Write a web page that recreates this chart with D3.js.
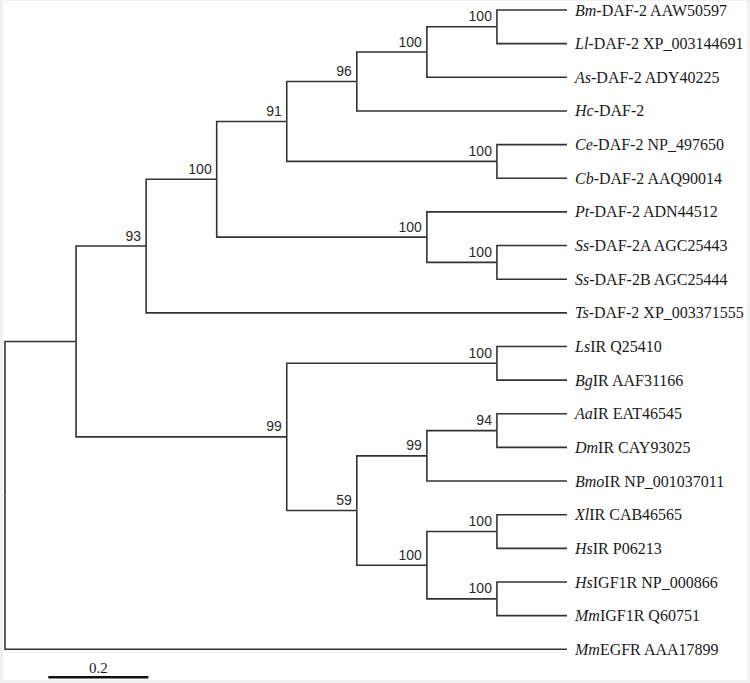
<html>
<meta charset="utf-8">

<head>
    <script src="https://d3js.org/d3.v7.min.js"></script>
    <style>
        body {
            margin: 0;
            background: #f1f1f1;
        }
    </style>
</head>

<body>
    <svg id="tree" width="750" height="683"></svg>

    <script>
        // node table: id, parent, distance from root, bootstrap support
        const nodeIds = ['root', 'n1', 'n93', 'n100a', 'n91', 'n96', 'n100b', 'nBm',
            'Bm', 'Ll', 'As', 'Hc', 'nCe', 'Ce', 'Cb', 'nPt', 'Pt', 'nSs', 'SsA', 'SsB', 'Ts',
            'n99a', 'nLs', 'Ls', 'Bg', 'n59', 'n99b', 'nAa', 'Aa', 'Dm', 'Bmo',
            'n100c', 'nXl', 'Xl', 'HsIR', 'nHsI', 'HsIGF', 'MmIGF', 'MmEGFR'];
        const parentIds = ['', 'root', 'n1', 'n93', 'n100a', 'n91', 'n96', 'n100b',
            'nBm', 'nBm', 'n100b', 'n96', 'n91', 'nCe', 'nCe', 'n100a', 'nPt', 'nPt', 'nSs', 'nSs', 'n93',
            'n1', 'n99a', 'nLs', 'nLs', 'n99a', 'n59', 'n99b', 'nAa', 'nAa', 'n99b',
            'n59', 'n100c', 'nXl', 'nXl', 'n100c', 'nHsI', 'nHsI', 'root'];
        const rootDistance = [0, 0.142, 0.282, 0.423, 0.563, 0.703, 0.843, 0.983,
            1.123, 1.123, 1.123, 1.123, 0.983, 1.123, 1.123, 0.843, 1.123, 0.983, 1.123, 1.123, 1.123,
            0.563, 0.983, 1.123, 1.123, 0.703, 0.843, 0.983, 1.123, 1.123, 1.123,
            0.843, 0.983, 1.123, 1.123, 0.983, 1.123, 1.123, 1.123];
        const support = [null, null, 93, 100, 91, 96, 100, 100,
            null, null, null, null, 100, null, null, 100, null, 100, null, null, null,
            99, 100, null, null, 59, 99, 94, null, null, null,
            100, 100, null, null, 100, null, null, null];

        // tip labels: italic species part + rest
        const tipIds = ['Bm', 'Ll', 'As', 'Hc', 'Ce', 'Cb', 'Pt', 'SsA', 'SsB', 'Ts',
            'Ls', 'Bg', 'Aa', 'Dm', 'Bmo', 'Xl', 'HsIR', 'HsIGF', 'MmIGF', 'MmEGFR'];
        const tipSpecies = ['Bm', 'Ll', 'As', 'Hc', 'Ce', 'Cb', 'Pt', 'Ss', 'Ss', 'Ts',
            'Ls', 'Bg', 'Aa', 'Dm', 'Bmo', 'Xl', 'Hs', 'Hs', 'Mm', 'Mm'];
        const tipRest = ['-DAF-2 AAW50597', '-DAF-2 XP_003144691', '-DAF-2 ADY40225', '-DAF-2',
            '-DAF-2 NP_497650', '-DAF-2 AAQ90014', '-DAF-2 ADN44512', '-DAF-2A AGC25443',
            '-DAF-2B AGC25444', '-DAF-2 XP_003371555', 'IR Q25410', 'IR AAF31166',
            'IR EAT46545', 'IR CAY93025', 'IR NP_001037011', 'IR CAB46565', 'IR P06213',
            'IGF1R NP_000866', 'IGF1R Q60751', 'EGFR AAA17899'];

        const scaleBarValue = 0.2;

        const serifFont = "'Liberation Serif', 'Times New Roman', serif";
        const sansFont = "'Liberation Sans', Arial, Helvetica, sans-serif";

        const svg = d3.select('svg#tree');

        // white page with thin grey edge
        svg.append('rect')
            .attr('x', 3).attr('y', 1)
            .attr('width', 744).attr('height', 679)
            .attr('fill', 'white');

        const table = nodeIds.map((id, i) => ({
            id: id, parent: parentIds[i], dist: rootDistance[i], support: support[i]
        }));

        const root = d3.stratify()
            .id(d => d.id)
            .parentId(d => d.parent || null)(table);

        // leaf order index, internal nodes at mean of children
        let leafIndex = 0;
        root.eachAfter(n => {
            if (!n.children) {
                n.order = leafIndex++;
            } else {
                n.order = d3.mean(n.children, c => c.order);
            }
        });

        const xScale = d3.scaleLinear().domain([0, 1.123]).range([5, 567]);
        const yScale = d3.scaleLinear().domain([0, tipIds.length - 1]).range([10, 649.3]);

        const px = n => xScale(n.data.dist);
        const py = n => yScale(n.order);

        const linkArea = svg.append('g').attr('id', 'links');

        linkArea.selectAll('path.link')
            .data(root.links())
            .join('path')
            .attr('class', 'link')
            .attr('fill', 'none')
            .attr('stroke', '#333')
            .attr('stroke-width', 1.6)
            .attr('d', d => `M${px(d.source)},${py(d.source)}V${py(d.target)}H${px(d.target)}`);

        // bootstrap values
        svg.append('g').attr('id', 'support')
            .selectAll('text')
            .data(root.descendants().filter(n => n.data.support != null))
            .join('text')
            .attr('font-family', sansFont)
            .attr('font-size', 14)
            .attr('fill', '#2a2a2a')
            .attr('x', n => px(n) - 5)
            .attr('y', n => py(n) - 5.5)
            .attr('text-anchor', 'end')
            .text(n => n.data.support);

        // tip labels
        const labels = svg.append('g').attr('id', 'tipLabels')
            .selectAll('text')
            .data(root.leaves())
            .join('text')
            .attr('font-family', serifFont)
            .attr('font-size', 16)
            .attr('fill', '#1a1a1a')
            .attr('x', n => px(n) + 8)
            .attr('y', n => py(n) + 5.5);

        labels.append('tspan')
            .attr('font-style', 'italic')
            .text(n => tipSpecies[tipIds.indexOf(n.id)]);
        labels.append('tspan')
            .text(n => tipRest[tipIds.indexOf(n.id)]);

        // scale bar
        const barStart = 48.3;
        const barLen = xScale(scaleBarValue) - xScale(0);
        svg.append('line')
            .attr('x1', barStart).attr('x2', barStart + barLen)
            .attr('y1', 677.3).attr('y2', 677.3)
            .attr('stroke', '#111')
            .attr('stroke-width', 2.4);
        svg.append('text')
            .attr('font-family', serifFont)
            .attr('font-size', 15)
            .attr('fill', '#1a1a1a')
            .attr('x', barStart + barLen / 2)
            .attr('y', 673)
            .attr('text-anchor', 'middle')
            .text(scaleBarValue);
    </script>
</body>

</html>
